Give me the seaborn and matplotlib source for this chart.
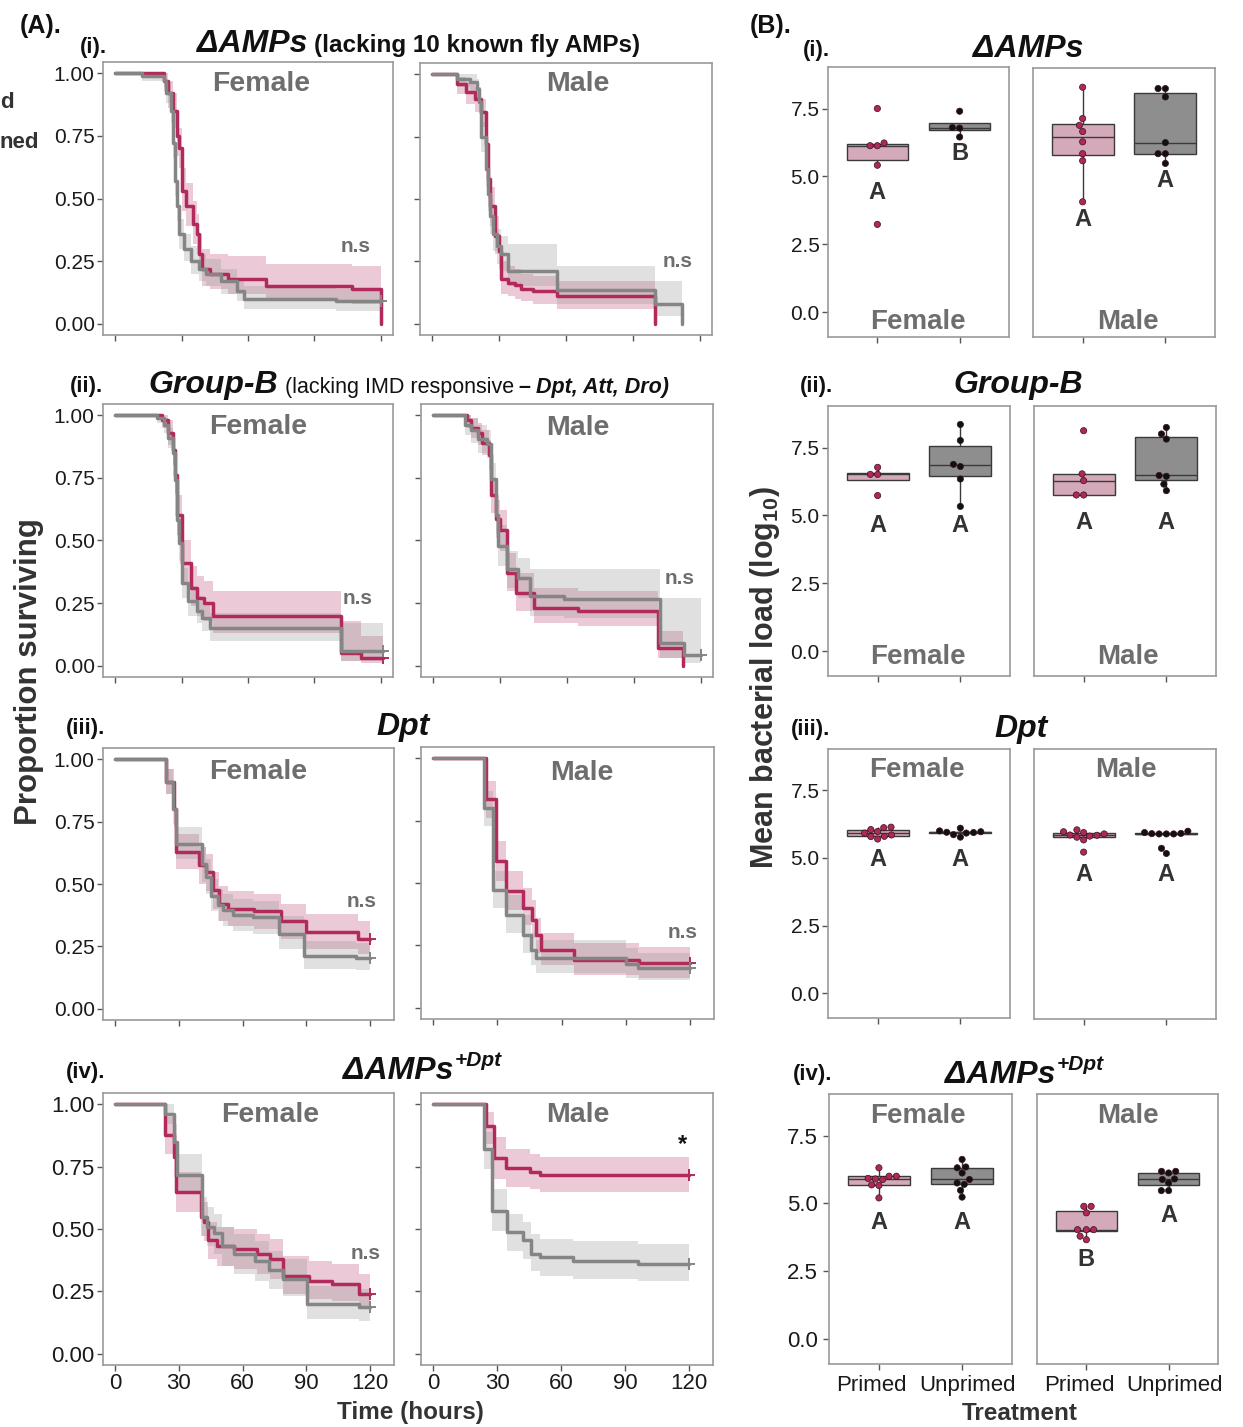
import numpy as np
import pandas as pd
import matplotlib
matplotlib.use('Agg')
import matplotlib.pyplot as plt
from matplotlib.transforms import ScaledTranslation
import seaborn as sns

# ---------------- Survival data (time in hours, survival, CI low, CI high) ----------------
# (i) dAMPs
amp_f_pri_t  = [0, 22, 24, 26, 28, 29, 30, 32, 35, 37, 38, 39, 43, 51, 68, 107, 120]
amp_f_pri_s  = [1.0, 0.97, 0.92, 0.85, 0.75, 0.70, 0.53, 0.47, 0.40, 0.36, 0.28, 0.22, 0.20, 0.18, 0.15, 0.14, 0.0]
amp_f_pri_lo = [1.0, 0.93, 0.86, 0.78, 0.67, 0.62, 0.45, 0.39, 0.32, 0.28, 0.21, 0.15, 0.14, 0.12, 0.09, 0.08, 0.0]
amp_f_pri_hi = [1.0, 1.0, 0.97, 0.92, 0.83, 0.78, 0.62, 0.56, 0.49, 0.44, 0.36, 0.30, 0.28, 0.27, 0.24, 0.23, 0.0]

amp_f_unp_t  = [0, 12, 22, 23, 25, 26, 27, 28, 29, 31, 34, 38, 41, 48, 55, 58, 100, 120]
amp_f_unp_s  = [1.0, 0.99, 0.97, 0.92, 0.85, 0.72, 0.57, 0.47, 0.36, 0.30, 0.25, 0.22, 0.20, 0.17, 0.13, 0.10, 0.09, 0.09]
amp_f_unp_lo = [1.0, 0.97, 0.94, 0.88, 0.80, 0.66, 0.51, 0.41, 0.30, 0.25, 0.20, 0.17, 0.15, 0.12, 0.09, 0.06, 0.05, 0.05]
amp_f_unp_hi = [1.0, 1.0, 1.0, 0.96, 0.90, 0.78, 0.63, 0.53, 0.42, 0.36, 0.31, 0.28, 0.26, 0.22, 0.18, 0.15, 0.14, 0.14]

amp_m_pri_t  = [0, 11, 15, 19, 22, 24, 25, 26, 28, 30, 31, 34, 37, 40, 45, 56, 100]
amp_m_pri_s  = [1.0, 0.96, 0.93, 0.90, 0.85, 0.72, 0.58, 0.47, 0.35, 0.29, 0.18, 0.165, 0.155, 0.14, 0.13, 0.11, 0.0]
amp_m_pri_lo = [1.0, 0.92, 0.88, 0.85, 0.79, 0.65, 0.50, 0.39, 0.28, 0.22, 0.12, 0.11, 0.10, 0.09, 0.08, 0.06, 0.0]
amp_m_pri_hi = [1.0, 0.99, 0.97, 0.95, 0.90, 0.79, 0.66, 0.55, 0.43, 0.36, 0.25, 0.23, 0.22, 0.20, 0.19, 0.17, 0.0]

amp_m_unp_t  = [0, 11, 17, 20, 21, 22, 24, 25, 26, 27, 29, 31, 34, 56, 100, 112]
amp_m_unp_s  = [1.0, 0.98, 0.97, 0.94, 0.89, 0.75, 0.62, 0.52, 0.43, 0.36, 0.31, 0.28, 0.21, 0.135, 0.08, 0.0]
amp_m_unp_lo = [1.0, 0.95, 0.93, 0.90, 0.84, 0.69, 0.55, 0.45, 0.36, 0.29, 0.24, 0.21, 0.15, 0.08, 0.03, 0.0]
amp_m_unp_hi = [1.0, 1.0, 1.0, 0.98, 0.94, 0.81, 0.69, 0.59, 0.50, 0.43, 0.38, 0.35, 0.32, 0.23, 0.17, 0.0]

# (ii) Group-B
grpb_f_pri_t  = [0, 21, 24, 26, 27, 28, 30, 34, 37, 40, 44, 102, 111, 121]
grpb_f_pri_s  = [1.0, 0.98, 0.93, 0.86, 0.76, 0.60, 0.41, 0.31, 0.27, 0.25, 0.20, 0.05, 0.03, 0.03]
grpb_f_pri_lo = [1.0, 0.95, 0.88, 0.80, 0.69, 0.52, 0.33, 0.24, 0.20, 0.18, 0.13, 0.02, 0.01, 0.01]
grpb_f_pri_hi = [1.0, 1.0, 0.98, 0.92, 0.83, 0.68, 0.50, 0.40, 0.36, 0.34, 0.30, 0.18, 0.12, 0.12]

grpb_f_unp_t  = [0, 19, 22, 24, 26, 27, 28, 29, 30, 33, 37, 39, 43, 102, 121]
grpb_f_unp_s  = [1.0, 0.99, 0.96, 0.91, 0.85, 0.74, 0.58, 0.49, 0.33, 0.26, 0.22, 0.19, 0.15, 0.06, 0.06]
grpb_f_unp_lo = [1.0, 0.97, 0.93, 0.87, 0.80, 0.68, 0.52, 0.42, 0.27, 0.20, 0.17, 0.14, 0.10, 0.02, 0.02]
grpb_f_unp_hi = [1.0, 1.0, 0.99, 0.95, 0.90, 0.80, 0.64, 0.56, 0.39, 0.32, 0.28, 0.25, 0.21, 0.17, 0.17]

grpb_m_pri_t  = [0, 15, 17, 20, 22, 25, 26, 28, 30, 33, 37, 45, 65, 101, 112]
grpb_m_pri_s  = [1.0, 0.98, 0.95, 0.93, 0.89, 0.84, 0.68, 0.585, 0.54, 0.37, 0.29, 0.23, 0.22, 0.07, 0.0]
grpb_m_pri_lo = [1.0, 0.95, 0.91, 0.88, 0.84, 0.78, 0.61, 0.51, 0.46, 0.30, 0.22, 0.17, 0.16, 0.03, 0.0]
grpb_m_pri_hi = [1.0, 1.0, 0.99, 0.97, 0.94, 0.90, 0.75, 0.66, 0.62, 0.45, 0.37, 0.31, 0.30, 0.14, 0.0]

grpb_m_unp_t  = [0, 14, 17, 20, 24, 26, 28, 29, 33, 38, 43.5, 58.5, 102, 112.5, 120]
grpb_m_unp_s  = [1.0, 0.96, 0.94, 0.906, 0.886, 0.746, 0.60, 0.48, 0.385, 0.35, 0.278, 0.265, 0.09, 0.044, 0.044]
grpb_m_unp_lo = [1.0, 0.92, 0.89, 0.85, 0.83, 0.68, 0.53, 0.40, 0.31, 0.27, 0.20, 0.19, 0.03, 0.01, 0.01]
grpb_m_unp_hi = [1.0, 1.0, 0.99, 0.96, 0.94, 0.81, 0.67, 0.56, 0.46, 0.43, 0.385, 0.385, 0.27, 0.27, 0.27]

# (iii) Dpt
dpt_f_pri_t  = [0, 24, 27.8, 28.6, 39.6, 42.7, 45.9, 49, 53, 65.5, 78, 89.8, 114.2, 120]
dpt_f_pri_s  = [1.0, 0.91, 0.80, 0.63, 0.577, 0.55, 0.476, 0.42, 0.40, 0.39, 0.35, 0.306, 0.28, 0.28]
dpt_f_pri_lo = [1.0, 0.86, 0.73, 0.56, 0.50, 0.47, 0.40, 0.35, 0.33, 0.32, 0.28, 0.24, 0.22, 0.22]
dpt_f_pri_hi = [1.0, 0.96, 0.87, 0.70, 0.65, 0.62, 0.55, 0.49, 0.47, 0.46, 0.42, 0.38, 0.35, 0.35]

dpt_f_unp_t  = [0, 24, 27, 28.6, 41.1, 42.7, 45.1, 48.2, 50.6, 55.3, 64.7, 77.3, 89, 113.4, 120]
dpt_f_unp_s  = [1.0, 0.91, 0.80, 0.66, 0.58, 0.53, 0.45, 0.416, 0.396, 0.376, 0.366, 0.30, 0.21, 0.205, 0.205]
dpt_f_unp_lo = [1.0, 0.86, 0.74, 0.60, 0.51, 0.46, 0.39, 0.35, 0.33, 0.31, 0.30, 0.24, 0.16, 0.155, 0.155]
dpt_f_unp_hi = [1.0, 0.96, 0.86, 0.73, 0.65, 0.60, 0.52, 0.48, 0.46, 0.44, 0.43, 0.37, 0.27, 0.265, 0.265]

dpt_m_pri_t  = [0, 24.5, 29.2, 33.9, 42, 46.3, 47.9, 50.2, 65.8, 96.3, 120]
dpt_m_pri_s  = [1.0, 0.836, 0.59, 0.467, 0.40, 0.353, 0.29, 0.232, 0.19, 0.178, 0.178]
dpt_m_pri_lo = [1.0, 0.76, 0.51, 0.39, 0.33, 0.28, 0.22, 0.17, 0.13, 0.12, 0.12]
dpt_m_pri_hi = [1.0, 0.91, 0.67, 0.55, 0.48, 0.43, 0.36, 0.30, 0.26, 0.245, 0.245]

dpt_m_unp_t  = [0, 23.7, 28.1, 33.9, 42, 45.9, 47.9, 90, 95.9, 120]
dpt_m_unp_s  = [1.0, 0.80, 0.47, 0.373, 0.29, 0.232, 0.20, 0.176, 0.158, 0.158]
dpt_m_unp_lo = [1.0, 0.73, 0.40, 0.30, 0.22, 0.17, 0.14, 0.12, 0.11, 0.11]
dpt_m_unp_hi = [1.0, 0.87, 0.55, 0.45, 0.37, 0.30, 0.27, 0.24, 0.22, 0.22]

# (iv) dAMPs+Dpt
ampdpt_f_pri_t  = [0, 23.5, 27.5, 28.7, 40.3, 41.9, 43.9, 47.8, 55.7, 66.7, 72.9, 79.2, 91, 102, 114.5, 120]
ampdpt_f_pri_s  = [1.0, 0.876, 0.79, 0.65, 0.55, 0.53, 0.456, 0.43, 0.42, 0.40, 0.38, 0.31, 0.29, 0.28, 0.24, 0.24]
ampdpt_f_pri_lo = [1.0, 0.80, 0.71, 0.57, 0.47, 0.45, 0.38, 0.35, 0.34, 0.32, 0.30, 0.24, 0.22, 0.21, 0.18, 0.18]
ampdpt_f_pri_hi = [1.0, 0.95, 0.87, 0.73, 0.63, 0.61, 0.53, 0.51, 0.50, 0.48, 0.46, 0.39, 0.37, 0.36, 0.32, 0.32]

ampdpt_f_unp_t  = [0, 23.5, 27.5, 29, 40.8, 43.1, 46.3, 50.2, 55.7, 65.9, 72.2, 79.2, 90.2, 114.5, 120]
ampdpt_f_unp_s  = [1.0, 0.96, 0.85, 0.716, 0.55, 0.51, 0.483, 0.43, 0.40, 0.37, 0.336, 0.30, 0.20, 0.187, 0.187]
ampdpt_f_unp_lo = [1.0, 0.92, 0.78, 0.64, 0.47, 0.43, 0.40, 0.35, 0.32, 0.29, 0.26, 0.23, 0.14, 0.13, 0.13]
ampdpt_f_unp_hi = [1.0, 1.0, 0.92, 0.80, 0.63, 0.59, 0.56, 0.51, 0.48, 0.45, 0.41, 0.38, 0.27, 0.26, 0.26]

ampdpt_m_pri_t  = [0, 24.7, 28.4, 34, 45.3, 50, 120]
ampdpt_m_pri_s  = [1.0, 0.913, 0.784, 0.744, 0.73, 0.717, 0.717]
ampdpt_m_pri_lo = [1.0, 0.84, 0.70, 0.67, 0.66, 0.65, 0.65]
ampdpt_m_pri_hi = [1.0, 0.97, 0.87, 0.82, 0.80, 0.79, 0.79]

ampdpt_m_unp_t  = [0, 23.75, 27.8, 34.4, 42.2, 46.1, 50, 65.6, 96.1, 120]
ampdpt_m_unp_s  = [1.0, 0.82, 0.574, 0.486, 0.454, 0.40, 0.387, 0.37, 0.36, 0.36]
ampdpt_m_unp_lo = [1.0, 0.74, 0.49, 0.41, 0.38, 0.33, 0.31, 0.30, 0.29, 0.29]
ampdpt_m_unp_hi = [1.0, 0.89, 0.66, 0.56, 0.53, 0.48, 0.46, 0.45, 0.44, 0.44]

# significance labels: (text, time, survival)
sig_amp_f = ('n.s', 108.7, 0.31)
sig_amp_m = ('n.s', 110.0, 0.25)
sig_grpb_f = ('n.s', 109.6, 0.27)
sig_grpb_m = ('n.s', 110.7, 0.35)
sig_dpt_f = ('n.s', 115.8, 0.43)
sig_dpt_m = ('n.s', 116.4, 0.30)
sig_ampdpt_f = ('n.s', 118.0, 0.40)
sig_ampdpt_m = ('*', 117.0, 0.84)

# ---------------- Bacterial load data (log10) ----------------
load_amp_f_pri = [7.50, 6.23, 6.13, 6.13, 5.41, 3.23]
load_amp_f_unp = [7.40, 6.80, 6.78, 6.45]
load_amp_m_pri = [8.32, 7.16, 6.91, 6.68, 6.30, 5.86, 5.60, 4.08]
load_amp_m_unp = [8.27, 8.27, 7.96, 6.27, 5.86, 5.86, 5.50]
load_grpb_f_pri = [6.77, 6.51, 6.51, 5.73]
load_grpb_f_unp = [8.35, 7.76, 6.88, 6.80, 6.34, 5.33]
load_grpb_m_pri = [8.12, 6.53, 6.28, 5.75, 5.75]
load_grpb_m_unp = [8.24, 8.00, 7.81, 6.47, 6.44, 6.15, 5.91]
load_dpt_f_pri = [6.14, 6.12, 6.05, 5.98, 5.92, 5.85, 5.80, 5.79, 5.70]
load_dpt_f_unp = [6.10, 6.00, 5.97, 5.95, 5.94, 5.92, 5.86, 5.77]
load_dpt_m_pri = [6.05, 5.98, 5.95, 5.90, 5.86, 5.85, 5.82, 5.78, 5.68, 5.23]
load_dpt_m_unp = [6.00, 5.95, 5.92, 5.91, 5.90, 5.90, 5.90, 5.37, 5.18]
load_ampdpt_f_pri = [6.31, 6.00, 6.00, 5.92, 5.90, 5.88, 5.68, 5.66, 5.20]
load_ampdpt_f_unp = [6.62, 6.34, 6.31, 6.12, 5.88, 5.75, 5.70, 5.48, 5.23]
load_ampdpt_m_pri = [4.89, 4.89, 4.65, 4.03, 4.03, 4.03, 3.79, 3.66]
load_ampdpt_m_unp = [6.18, 6.18, 6.12, 5.90, 5.88, 5.75, 5.47, 5.47]

# compact letter display: (letter primed, y), (letter unprimed, y)
cld_amp_f = [('A', 4.39), ('B', 5.86)]
cld_amp_m = [('A', 3.44), ('A', 4.86)]
cld_grpb_f = [('A', 4.64), ('A', 4.64)]
cld_grpb_m = [('A', 4.73), ('A', 4.73)]
cld_dpt_f = [('A', 4.96), ('A', 4.96)]
cld_dpt_m = [('A', 4.40), ('A', 4.40)]
cld_ampdpt_f = [('A', 4.30), ('A', 4.30)]
cld_ampdpt_m = [('B', 2.93), ('A', 4.56)]

treatments = ['Primed', 'Unprimed']
genotypes = ['amp', 'grpb', 'dpt', 'ampdpt']
sexes = ['f', 'm']
sex_names = {'f': 'Female', 'm': 'Male'}

# ---------------- Style ----------------
W, H = 1243, 1427
sns.set_style('ticks')
plt.rcParams['font.family'] = ['Liberation Sans', 'DejaVu Sans']
plt.rcParams['mathtext.fontset'] = 'custom'
plt.rcParams['mathtext.rm'] = 'Liberation Sans'
plt.rcParams['mathtext.bf'] = 'Liberation Sans:bold'
plt.rcParams['mathtext.it'] = 'Liberation Sans:italic'

COL_PRI = '#B22A5C'
COL_UNP = '#858585'
FILL_PRI = '#B8386A'
FILL_UNP = '#9A9A9A'
BOX_PRI = '#DBA3B8'
BOX_UNP = '#8E8E8E'
DOT_PRI = '#B02858'
DOT_UNP = '#111111'
FACET_COL = '#6E6E6E'
SPINE_COL = '#9A9A9A'
TXT_DARK = '#333333'

fig = plt.figure(figsize=(W / 100, H / 100), dpi=100)
renderer = fig.canvas.get_renderer()


def add_ax(l, t, r, b):
    return fig.add_axes([l / W, 1 - b / H, (r - l) / W, (b - t) / H])


def ftext(x, y, s, **kw):
    return fig.text(x / W, 1 - y / H, s, **kw)


def rich(x, y, parts):
    cx = x
    for s, kw, gap in parts:
        t = ftext(cx, y, s, ha='left', va='baseline', **kw)
        bb = t.get_window_extent(renderer)
        cx += bb.width + gap
    return cx


def style_axes(ax):
    for sp in ax.spines.values():
        sp.set_color(SPINE_COL)
        sp.set_linewidth(1.2)
    ax.tick_params(direction='out', length=4, width=1.0, color='#555555',
                   labelsize=15, labelcolor='#1a1a1a', pad=2)
    ax.set_xlabel('')
    ax.set_ylabel('')


# ---------------- Panel A: survival ----------------
A_boxes = {
    ('amp', 'f'): (103, 62, 393, 335), ('amp', 'm'): (420, 63, 712, 335),
    ('grpb', 'f'): (103, 404, 393, 677), ('grpb', 'm'): (421, 404, 713, 677),
    ('dpt', 'f'): (103, 748, 394, 1020), ('dpt', 'm'): (421, 747, 714, 1019),
    ('ampdpt', 'f'): (103, 1093, 394, 1365), ('ampdpt', 'm'): (421, 1093, 713, 1365),
}
A_xlim = {'amp': (-5.6, 125.6), 'grpb': (-5.6, 125.6), 'dpt': (-5.7, 131.2), 'ampdpt': (-5.7, 131.2)}
A_facet_pos = {
    ('amp', 'f'): (261, 84), ('amp', 'm'): (578, 84),
    ('grpb', 'f'): (258, 427), ('grpb', 'm'): (578, 428),
    ('dpt', 'f'): (258, 772), ('dpt', 'm'): (582, 773),
    ('ampdpt', 'f'): (270, 1115), ('ampdpt', 'm'): (578, 1115),
}

for g in genotypes:
    for sx in sexes:
        ax = add_ax(*A_boxes[(g, sx)])
        curves = []
        for tr, lc, fc, fa in [('pri', COL_PRI, FILL_PRI, 0.27), ('unp', COL_UNP, FILL_UNP, 0.30)]:
            t = globals()[f'{g}_{sx}_{tr}_t']
            s = globals()[f'{g}_{sx}_{tr}_s']
            lo = globals()[f'{g}_{sx}_{tr}_lo']
            hi = globals()[f'{g}_{sx}_{tr}_hi']
            ax.fill_between(t, lo, hi, step='post', color=fc, alpha=fa, linewidth=0)
            curves.append((t, s, lc))
        for t, s, lc in curves:
            sns.lineplot(x=t, y=s, drawstyle='steps-post', color=lc, linewidth=2.5,
                         estimator=None, sort=False, ax=ax)
            if s[-1] > 0:
                ax.plot([t[-1]], [s[-1]], marker='+', ms=8, mew=1.4, color=lc, ls='none')
        ax.set_xlim(*A_xlim[g])
        ax.set_ylim(-0.045, 1.045)
        ax.set_xticks([0, 30, 60, 90, 120])
        ax.set_yticks([0, 0.25, 0.5, 0.75, 1.0])
        ax.set_yticklabels(['0.00', '0.25', '0.50', '0.75', '1.00'])
        style_axes(ax)
        if sx == 'm':
            ax.tick_params(labelleft=False)
        if g != 'ampdpt':
            ax.tick_params(labelbottom=False)
        else:
            ax.tick_params(labelsize=16)
        sig = globals()[f'sig_{g}_{sx}']
        ax.text(sig[1], sig[2], sig[0], ha='center', va='center', fontsize=15 if sig[0] != '*' else 17,
                fontweight='bold', color=FACET_COL if sig[0] != '*' else '#111111')
        fx, fy = A_facet_pos[(g, sx)]
        ftext(fx, fy, sex_names[sx], ha='center', va='center', fontsize=20.5,
              fontweight='bold', color=FACET_COL)

# ---------------- Panel B: bacterial load ----------------
B_boxes = {
    ('amp', 'f'): (828, 67, 1009, 337), ('amp', 'm'): (1033, 68, 1215, 337),
    ('grpb', 'f'): (828, 406, 1010, 676), ('grpb', 'm'): (1034, 406, 1216, 676),
    ('dpt', 'f'): (828, 749, 1010, 1018), ('dpt', 'm'): (1034, 749, 1216, 1019),
    ('ampdpt', 'f'): (829, 1094, 1012, 1364), ('ampdpt', 'm'): (1037, 1094, 1218, 1364),
}
B_facet_pos = {
    ('amp', 'f'): (918, 322), ('amp', 'm'): (1128, 322),
    ('grpb', 'f'): (918, 657), ('grpb', 'm'): (1128, 657),
    ('dpt', 'f'): (917, 770), ('dpt', 'm'): (1126, 770),
    ('ampdpt', 'f'): (918, 1116), ('ampdpt', 'm'): (1128, 1116),
}
tick_label_shift = {'f': (-8, 5), 'm': (-7, 6)}   # px offsets of the Primed / Unprimed labels

for g in genotypes:
    for sx in sexes:
        ax = add_ax(*B_boxes[(g, sx)])
        p = globals()[f'load_{g}_{sx}_pri']
        u = globals()[f'load_{g}_{sx}_unp']
        df = pd.DataFrame({'Treatment': ['Primed'] * len(p) + ['Unprimed'] * len(u),
                           'load': p + u})
        sns.boxplot(data=df, x='Treatment', y='load', hue='Treatment', order=treatments,
                    hue_order=treatments, palette={'Primed': BOX_PRI, 'Unprimed': BOX_UNP},
                    width=0.75, showfliers=False, showcaps=False, linewidth=1.0,
                    linecolor='#3a3a3a', legend=False, ax=ax)
        sns.swarmplot(data=df, x='Treatment', y='load', hue='Treatment', order=treatments,
                      hue_order=treatments, palette={'Primed': DOT_PRI, 'Unprimed': DOT_UNP},
                      size=4.5, edgecolor='#3a1020', linewidth=0.5, legend=False, ax=ax)
        for i, (letter, yy) in enumerate(globals()[f'cld_{g}_{sx}']):
            ax.text(i, yy, letter, ha='center', va='center', fontsize=17,
                    fontweight='bold', color=TXT_DARK)
        ax.set_xlim(-0.6, 1.6)
        ax.set_ylim(-0.92, 9.03)
        ax.set_yticks([0, 2.5, 5.0, 7.5])
        ax.set_yticklabels(['0.0', '2.5', '5.0', '7.5'])
        style_axes(ax)
        if sx == 'm':
            ax.tick_params(left=False, labelleft=False)
        if g != 'ampdpt':
            ax.tick_params(labelbottom=False)
        else:
            ax.tick_params(labelsize=16, pad=4)
            for lab, dx in zip(ax.get_xticklabels(), tick_label_shift[sx]):
                lab.set_transform(lab.get_transform() +
                                  ScaledTranslation(dx / 100, 0, fig.dpi_scale_trans))
        fx, fy = B_facet_pos[(g, sx)]
        ftext(fx, fy, sex_names[sx], ha='center', va='center', fontsize=20,
              fontweight='bold', color=FACET_COL)

# ---------------- Titles & labels ----------------
BI = dict(fontweight='bold', fontstyle='italic', color='#111111')
B_ = dict(fontweight='bold', color='#111111')
R_ = dict(color='#111111')

ftext(20, 33, '(A).', ha='left', va='baseline', fontsize=18, **B_)
ftext(750, 33, '(B).', ha='left', va='baseline', fontsize=18, **B_)
for x, y, s in [(80, 53, '(i).'), (70, 392, '(ii).'), (66, 734, '(iii).'), (66, 1078, '(iv).'),
                (803, 56, '(i).'), (800, 392, '(ii).'), (791, 735, '(iii).'), (793, 1080, '(iv).')]:
    ftext(x, y, s, ha='left', va='baseline', fontsize=16, **B_)

# A titles
rich(197, 52, [('\u0394AMPs', dict(fontsize=23, **BI), 7),
               ('(lacking 10 known fly AMPs)', dict(fontsize=17.5, **B_), 0)])
rich(148, 393, [('Group-B', dict(fontsize=23, **BI), 7),
                ('(lacking IMD responsive', dict(fontsize=15.5, **R_), 5),
                ('\u2013', dict(fontsize=15.5, **B_), 5),
                ('Dpt, Att, Dro)', dict(fontsize=15.5, **BI), 0)])
rich(376, 735, [('Dpt', dict(fontsize=23, **BI), 0)])
xe = rich(343, 1079, [('\u0394AMPs', dict(fontsize=23, **BI), 1)])
ftext(xe, 1066, '+Dpt', ha='left', va='baseline', fontsize=15, **BI)

# B titles
rich(973, 57, [('\u0394AMPs', dict(fontsize=23, **BI), 0)])
rich(953, 393, [('Group-B', dict(fontsize=23, **BI), 0)])
rich(994, 737, [('Dpt', dict(fontsize=23, **BI), 0)])
xe = rich(945, 1083, [('\u0394AMPs', dict(fontsize=23, **BI), 1)])
ftext(xe, 1070, '+Dpt', ha='left', va='baseline', fontsize=15, **BI)

# axis labels
ftext(29, 672, 'Proportion surviving', ha='center', va='center', rotation=90,
      fontsize=22.5, fontweight='bold', color=TXT_DARK)
ftext(765, 678, r'Mean bacterial load (log$_{\mathbf{10}}$)', ha='center', va='center',
      rotation=90, fontsize=22, fontweight='bold', color=TXT_DARK)
ftext(410, 1412, 'Time (hours)', ha='center', va='center', fontsize=17.5,
      fontweight='bold', color=TXT_DARK)
ftext(1020, 1414, 'Treatment', ha='center', va='center', fontsize=17.5,
      fontweight='bold', color=TXT_DARK)

# visible remnants of a legend cropped at the left edge
ftext(0, 103, 'd', ha='left', va='center', fontsize=16, fontweight='bold', color=TXT_DARK)
ftext(-1, 143, 'ned', ha='left', va='center', fontsize=16, fontweight='bold', color=TXT_DARK)

fig.savefig('out.png', dpi=100)
